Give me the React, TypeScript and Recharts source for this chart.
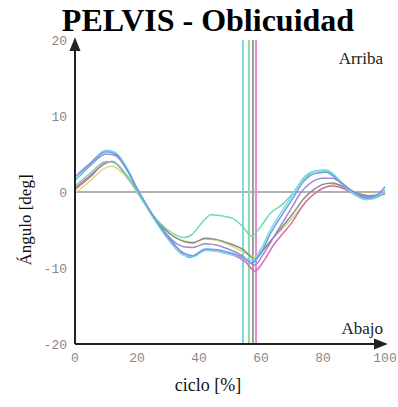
import { Line, LineChart, ReferenceLine, XAxis, YAxis } from "recharts";

type Pt = { x: number; y: number };

const xTicks = [0, 20, 40, 60, 80, 100];
const yTicks = [-20, -10, 0, 10, 20];

const blue: Pt[] = [
  [0, 2.0], [5, 3.8], [10, 5.3], [13, 5.0], [17, 2.8], [20, 0.5], [25, -3.0], [30, -6.0], [35, -8.0], [38, -8.4],
  [42, -7.5], [46, -7.6], [50, -8.0], [54, -8.6], [57, -9.3], [60, -8.0], [63, -5.5], [66, -3.5], [70, -1.0],
  [74, 1.5], [78, 2.5], [81, 2.6], [85, 1.5], [90, 0.0], [94, -0.8], [97, -0.5], [100, 0.7],
].map(([x, y]) => ({ x, y }));

const cyan: Pt[] = [
  [0, 1.5], [5, 3.8], [10, 5.5], [13, 5.2], [17, 3.0], [20, 0.5], [25, -3.2], [30, -6.2], [35, -8.3], [38, -8.5],
  [42, -7.7], [46, -7.8], [50, -8.2], [54, -8.6], [57, -9.0], [60, -7.5], [63, -5.0], [66, -3.0], [70, -0.5],
  [74, 2.0], [78, 2.8], [82, 2.7], [86, 1.2], [90, -0.3], [94, -1.0], [100, 0.3],
].map(([x, y]) => ({ x, y }));

const mint: Pt[] = [
  [0, 0.8], [5, 2.5], [10, 4.0], [13, 3.8], [17, 2.0], [20, 0], [25, -3.0], [30, -5.0], [35, -6.0], [38, -5.5],
  [41, -4.0], [44, -3.0], [48, -3.2], [51, -3.5], [54, -4.5], [57, -5.8], [60, -4.5], [63, -2.8], [67, -1.6],
  [70, -0.3], [74, 1.8], [78, 2.8], [81, 2.9], [85, 1.6], [90, -0.2], [94, -1.0], [97, -0.8], [100, 0],
].map(([x, y]) => ({ x, y }));

const pink: Pt[] = [
  [0, 0.3], [5, 2.0], [10, 3.9], [12, 4.0], [16, 2.5], [20, 0.3], [25, -3.2], [30, -5.8], [35, -8.2], [37, -8.6],
  [40, -8.0], [43, -7.6], [47, -7.9], [51, -8.3], [55, -9.2], [58, -10.4], [61, -9.0], [64, -7.0], [67, -5.5],
  [70, -4.0], [74, -1.5], [77, -0.3], [80, 0.5], [83, 0.8], [87, 0.4], [91, -0.5], [95, -0.8], [100, -0.2],
].map(([x, y]) => ({ x, y }));

const gray: Pt[] = [
  [0, 0.5], [5, 2.2], [10, 3.8], [12, 4.0], [16, 2.5], [20, 0.2], [25, -3.0], [30, -5.3], [35, -6.5], [38, -6.7],
  [42, -6.1], [45, -6.2], [50, -6.8], [54, -7.5], [58, -8.8], [61, -7.5], [64, -6.0], [67, -4.5], [70, -3.0],
  [74, -0.8], [77, 0.3], [80, 1.0], [83, 1.2], [86, 0.8], [90, 0], [95, -0.5], [100, -0.2],
].map(([x, y]) => ({ x, y }));

const purple: Pt[] = [
  [0, 1.5], [5, 3.5], [10, 5.0], [13, 4.8], [17, 2.7], [20, 0.4], [25, -3.0], [30, -5.8], [35, -7.2], [38, -7.3],
  [42, -6.8], [46, -7.0], [50, -7.6], [54, -8.4], [58, -9.6], [61, -8.0], [64, -6.0], [67, -4.0], [70, -2.0],
  [73, 0], [76, 1.2], [80, 1.8], [83, 1.8], [87, 0.8], [91, -0.4], [95, -0.6], [100, 0],
].map(([x, y]) => ({ x, y }));

const lime: Pt[] = [
  [0, -0.2], [5, 1.5], [10, 3.2], [12, 3.4], [16, 2.2], [20, 0], [25, -3.0], [30, -5.3], [35, -6.4], [38, -6.6],
  [42, -6.2], [46, -6.4], [50, -7.0], [54, -7.8], [58, -8.5], [61, -7.4], [64, -6.0], [67, -4.8], [70, -3.5],
  [74, -1.5], [78, 0], [81, 0.7], [84, 1.0], [88, 0.4], [92, -0.4], [96, -0.5], [100, -0.3],
].map(([x, y]) => ({ x, y }));

const series = [
  { name: "lime", data: lime, color: "#cde07a" },
  { name: "gray", data: gray, color: "#8c8a84" },
  { name: "pink", data: pink, color: "#dc6ab4" },
  { name: "purple", data: purple, color: "#9f88d6" },
  { name: "mint", data: mint, color: "#6fdcb0" },
  { name: "cyan", data: cyan, color: "#7fd4ec" },
  { name: "blue", data: blue, color: "#6a9ee0" },
];

const toeOff = [
  { x: 54.2, color: "#7fd8ec" },
  { x: 56.1, color: "#8edc9e" },
  { x: 57.4, color: "#a09aa8" },
  { x: 58.4, color: "#e48ccc" },
];

const tickStyle = { fontSize: 13, fill: "#888", fontFamily: "'Liberation Mono', monospace" };
const serif = "'Liberation Serif', 'Times New Roman', 'DejaVu Serif', serif";

export default function App() {
  return (
    <div style={{ position: "absolute", left: 0, top: 0, width: 398, height: 407, background: "#fff" }}>
      <svg width={0} height={0} style={{ position: "absolute" }}>
        <defs>
          <marker id="arrowX" viewBox="0 0 10 10" refX="8" refY="5" markerWidth="7" markerHeight="7" orient="auto">
            <path d="M0,1 L10,5 L0,9 z" fill="#222" />
          </marker>
          <marker id="arrowY" viewBox="0 0 10 10" refX="2" refY="5" markerWidth="7" markerHeight="7" orient="auto">
            <path d="M10,1 L0,5 L10,9 z" fill="#222" />
          </marker>
        </defs>
      </svg>
      <LineChart width={398} height={407} margin={{ top: 40, right: 13, left: 30, bottom: 33 }}>
        <XAxis
          type="number"
          dataKey="x"
          domain={[0, 100]}
          ticks={xTicks}
          tick={tickStyle}
          tickLine={false}
          tickSize={0}
          tickMargin={9}
          height={30}
          axisLine={{ stroke: "#222", strokeWidth: 2, markerEnd: "url(#arrowX)" } as any}
        />
        <YAxis
          type="number"
          domain={[-20, 20]}
          ticks={yTicks}
          tick={tickStyle}
          tickLine={false}
          tickSize={0}
          tickMargin={8}
          width={45}
          axisLine={{ stroke: "#222", strokeWidth: 2, markerStart: "url(#arrowY)" } as any}
        />
        <ReferenceLine y={0} stroke="#999" strokeWidth={1.5} />
        {toeOff.map((t) => (
          <ReferenceLine key={t.x} x={t.x} stroke={t.color} strokeWidth={2} />
        ))}
        {series.map((s) => (
          <Line
            key={s.name}
            data={s.data}
            dataKey="y"
            type="monotone"
            stroke={s.color}
            strokeWidth={1.5}
            dot={false}
            isAnimationActive={false}
          />
        ))}
      </LineChart>
      <div
        style={{ position: "absolute", left: 0, width: 416, top: 2, textAlign: "center", fontFamily: serif, fontWeight: 700, fontSize: 32, color: "#000", lineHeight: "36px" }}
      >
        PELVIS - Oblicuidad
      </div>
      <div style={{ position: "absolute", right: 15, top: 49, fontFamily: serif, fontSize: 17, color: "#222" }}>Arriba</div>
      <div style={{ position: "absolute", right: 15, top: 319, fontFamily: serif, fontSize: 17, color: "#222" }}>Abajo</div>
      <div
        style={{ position: "absolute", left: 26, top: 220, transform: "translate(-50%, -50%) rotate(-90deg)", whiteSpace: "nowrap", fontFamily: serif, fontSize: 17, color: "#111" }}
      >
        Ángulo [deg]
      </div>
      <div style={{ position: "absolute", left: 0, width: 416, top: 375, textAlign: "center", fontFamily: serif, fontSize: 18, color: "#111" }}>
        ciclo [%]
      </div>
    </div>
  );
}
